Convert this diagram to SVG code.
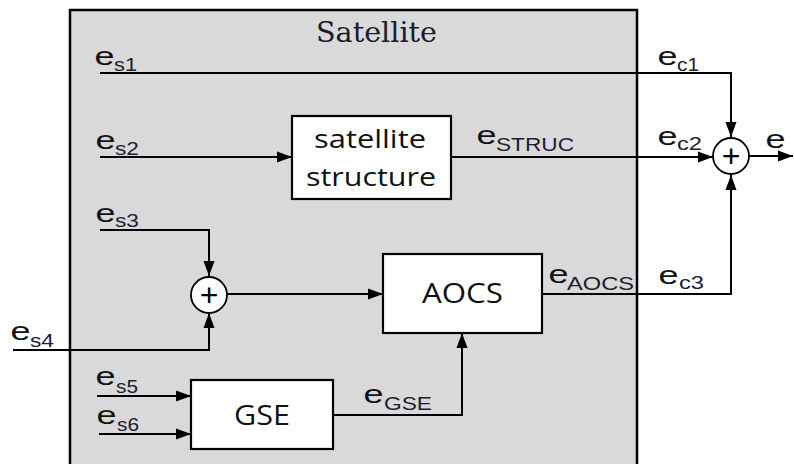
<svg xmlns="http://www.w3.org/2000/svg" width="794" height="464" viewBox="0 0 794 464">
<defs>
<marker id="arr" markerUnits="userSpaceOnUse" markerWidth="16" markerHeight="14" viewBox="0 0 16 14" refX="15" refY="7" orient="auto">
<path d="M0,1.5 L15,7 L0,12.5 Z" fill="#000"/>
</marker>
<style>
.ln{fill:none;stroke:#000;stroke-width:2}
.box{fill:#fff;stroke:#000;stroke-width:2.2}
.sum{fill:#fff;stroke:#000;stroke-width:1.8}
.e{font-family:"Liberation Sans",Arial,sans-serif;font-size:26px;fill:#111}
.s{font-family:"Liberation Sans",Arial,sans-serif;font-size:18px;fill:#1a2030}
.n{font-family:"Open Sans","Noto Sans",sans-serif;fill:#111}
.p{font-family:"Liberation Sans",Arial,sans-serif;font-size:32px;fill:#000}
</style>
</defs>
<rect width="794" height="464" fill="#fff"/>
<g id="satellite">
<rect x="70" y="10" width="567" height="470" fill="#d9d9d9" stroke="#000" stroke-width="2.5"/>
<text x="316" y="42" font-family="'DejaVu Serif','Liberation Serif',serif" font-size="28" fill="#1a1a2a" textLength="121" lengthAdjust="spacingAndGlyphs">Satellite</text>
</g>
<g id="connectors">
<path class="ln" d="M100,73 H731 V137" marker-end="url(#arr)"/>
<path class="ln" d="M100,157 H292" marker-end="url(#arr)"/>
<path class="ln" d="M451,157 H713" stroke-width="1.6" marker-end="url(#arr)"/>
<path class="ln" d="M749,156 H793" marker-end="url(#arr)"/>
<path class="ln" d="M100,230 H209 V276" marker-end="url(#arr)"/>
<path class="ln" d="M13,350 H209 V313" marker-end="url(#arr)"/>
<path class="ln" d="M227,294 H383" marker-end="url(#arr)"/>
<path class="ln" d="M542,294 H731 V175" marker-end="url(#arr)"/>
<path class="ln" d="M97,396 H191" marker-end="url(#arr)"/>
<path class="ln" d="M99,434 H191" marker-end="url(#arr)"/>
<path class="ln" d="M333,415 H462 V333" marker-end="url(#arr)"/>
</g>
<g id="sum-out">
<circle class="sum" cx="731" cy="156" r="18"/>
<text class="p" x="731" y="167" text-anchor="middle">+</text>
</g>
<g id="sum-aocs">
<circle class="sum" cx="209" cy="295" r="18"/>
<text class="p" x="209" y="306" text-anchor="middle">+</text>
</g>
<g id="structure">
<rect class="box" x="292" y="116" width="159" height="83"/>
<text class="n" x="314" y="148" font-size="25" textLength="112" lengthAdjust="spacingAndGlyphs">satellite</text>
<text class="n" x="306" y="186" font-size="25" textLength="130" lengthAdjust="spacingAndGlyphs">structure</text>
</g>
<g id="aocs">
<rect class="box" x="383" y="254" width="159" height="79"/>
<text class="n" x="422" y="303" font-size="28" textLength="81" lengthAdjust="spacingAndGlyphs">AOCS</text>
</g>
<g id="gse">
<rect class="box" x="191" y="380" width="142" height="69"/>
<text class="n" x="234" y="425" font-size="28" textLength="56" lengthAdjust="spacingAndGlyphs">GSE</text>
</g>
<g id="labels">
<text class="e" x="94.5" y="65" textLength="20" lengthAdjust="spacingAndGlyphs">e</text><text class="s" x="114" y="71" textLength="23" lengthAdjust="spacingAndGlyphs">s1</text>
<text class="e" x="95.5" y="149" textLength="20" lengthAdjust="spacingAndGlyphs">e</text><text class="s" x="115" y="155" textLength="24" lengthAdjust="spacingAndGlyphs">s2</text>
<text class="e" x="95.5" y="222" textLength="20" lengthAdjust="spacingAndGlyphs">e</text><text class="s" x="115" y="227" textLength="24" lengthAdjust="spacingAndGlyphs">s3</text>
<text class="e" x="10.5" y="340" textLength="20" lengthAdjust="spacingAndGlyphs">e</text><text class="s" x="30" y="347" textLength="24" lengthAdjust="spacingAndGlyphs">s4</text>
<text class="e" x="95.5" y="385" textLength="20" lengthAdjust="spacingAndGlyphs">e</text><text class="s" x="116" y="393" textLength="22" lengthAdjust="spacingAndGlyphs">s5</text>
<text class="e" x="96.5" y="424" textLength="20" lengthAdjust="spacingAndGlyphs">e</text><text class="s" x="117" y="431" textLength="22" lengthAdjust="spacingAndGlyphs">s6</text>
<text class="e" x="363.5" y="403" textLength="20" lengthAdjust="spacingAndGlyphs">e</text><text class="s" x="384" y="410" textLength="48" lengthAdjust="spacingAndGlyphs">GSE</text>
<text class="e" x="548.5" y="283" textLength="20" lengthAdjust="spacingAndGlyphs">e</text><text class="s" x="567" y="290" font-size="19" textLength="67" lengthAdjust="spacingAndGlyphs">AOCS</text>
<text class="e" x="476.5" y="144" textLength="20" lengthAdjust="spacingAndGlyphs">e</text><text class="s" x="496" y="151" font-size="16" textLength="78" lengthAdjust="spacingAndGlyphs">STRUC</text>
<text class="e" x="657.5" y="65" textLength="20" lengthAdjust="spacingAndGlyphs">e</text><text class="s" x="677" y="71" textLength="22" lengthAdjust="spacingAndGlyphs">c1</text>
<text class="e" x="657.5" y="145" textLength="20" lengthAdjust="spacingAndGlyphs">e</text><text class="s" x="677" y="150" textLength="25" lengthAdjust="spacingAndGlyphs">c2</text>
<text class="e" x="658.5" y="284" textLength="20" lengthAdjust="spacingAndGlyphs">e</text><text class="s" x="679" y="289" textLength="25" lengthAdjust="spacingAndGlyphs">c3</text>
<text class="e" x="765.5" y="148" textLength="20" lengthAdjust="spacingAndGlyphs">e</text>
</g>
</svg>
